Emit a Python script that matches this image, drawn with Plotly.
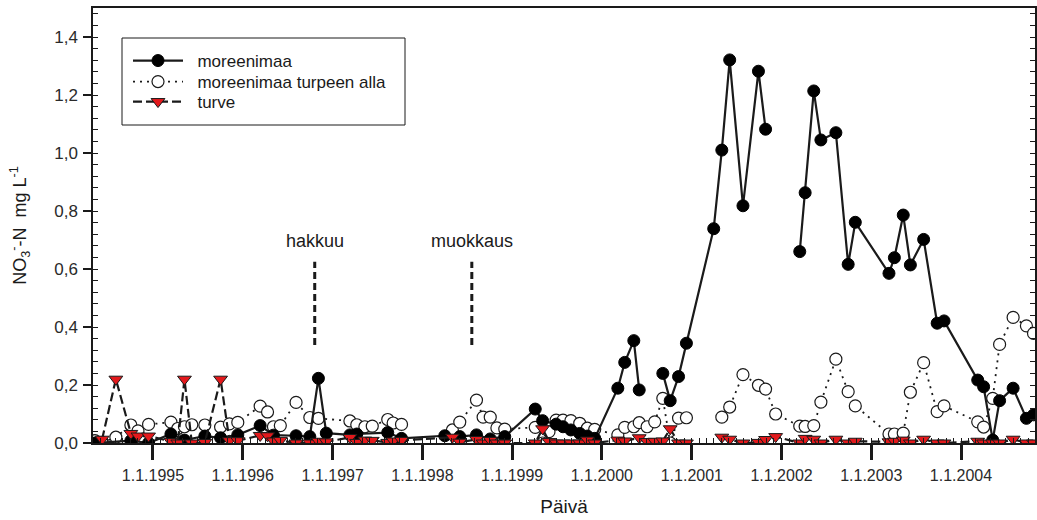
import plotly.graph_objects as go

# ---------------- data ----------------
moreen_dates = [
    "1994-05-10", "1994-10-03", "1994-12-14", "1995-03-15", "1995-05-09", "1995-07-31",
    "1995-10-03", "1995-12-12", "1996-03-12", "1996-05-05", "1996-08-05", "1996-09-30",
    "1996-11-04", "1996-12-06", "1997-03-12", "1997-04-09", "1997-08-13", "1997-10-08",
    "1998-04-02", "1998-06-02", "1998-08-09", "1998-10-04", "1998-12-02", "1999-04-05",
    "1999-05-05", "1999-06-29", "1999-07-27", "1999-08-28", "1999-10-03", "1999-11-03",
    "1999-12-03", "2000-03-06", "2000-04-03", "2000-05-10", "2000-06-01", "2000-07-20",
    "2000-09-05", "2000-10-05", "2000-11-08", "2000-12-10", "2001-03-31", "2001-05-03",
    "2001-06-04", "2001-07-28", "2001-09-29", "2001-10-28", "2002-01-01", "2002-03-16",
    "2002-04-07", "2002-05-12", "2002-06-10", "2002-08-10", "2002-09-29", "2002-10-28",
    "2003-03-14", "2003-04-05", "2003-05-11", "2003-06-09", "2003-08-02", "2003-09-26",
    "2003-10-24", "2004-03-09", "2004-04-02", "2004-05-09", "2004-06-06", "2004-07-31",
    "2004-09-23", "2004-10-22",
]
moreen_vals = [
    0.000, 0.008, 0.000, 0.031, 0.010, 0.024,
    0.018, 0.028, 0.060, 0.027, 0.025, 0.022,
    0.223, 0.034, 0.028, 0.031, 0.036, 0.016,
    0.025, 0.022, 0.028, 0.014, 0.022, 0.117,
    0.077, 0.065, 0.056, 0.045, 0.033, 0.024,
    0.016, 0.189, 0.278, 0.353, 0.183, None,
    0.240, 0.146, 0.229, 0.344, 0.739, 1.010,
    1.321, 0.818, 1.282, 1.082, None, 0.660,
    0.863, 1.214, 1.045, 1.070, 0.616, 0.761,
    0.585, 0.639, 0.786, 0.614, 0.702, 0.413,
    0.421, 0.217, 0.194, 0.010, 0.146, 0.189,
    0.085, 0.097,
]

alla_dates = [
    "1994-05-10", "1994-06-08", "1994-08-03", "1994-10-03", "1994-11-01", "1994-12-14",
    "1995-03-15", "1995-04-12", "1995-05-09", "1995-06-08", "1995-07-31", "1995-10-03",
    "1995-11-08", "1995-12-12", "1996-03-12", "1996-04-11", "1996-05-05", "1996-06-02",
    "1996-08-05", "1996-09-30", "1996-11-04", "1997-03-12", "1997-04-09", "1997-05-12",
    "1997-06-11", "1997-08-13", "1997-09-04", "1997-10-08", "1998-01-01", "1998-05-03",
    "1998-06-02", "1998-08-09", "1998-09-05", "1998-10-04", "1998-10-31", "1998-12-02",
    "1999-04-05", "1999-05-05", "1999-05-31", "1999-06-29", "1999-07-27", "1999-08-28",
    "1999-10-03", "1999-11-03", "1999-12-03", "2000-03-06", "2000-04-03", "2000-05-10",
    "2000-06-01", "2000-07-03", "2000-08-03", "2000-09-05", "2000-10-05", "2000-11-08",
    "2000-12-10", "2001-03-01", "2001-05-03", "2001-06-04", "2001-07-28", "2001-09-29",
    "2001-10-28", "2001-12-08", "2002-03-16", "2002-04-07", "2002-05-12", "2002-06-10",
    "2002-08-10", "2002-09-29", "2002-10-28", "2003-03-14", "2003-04-05", "2003-05-11",
    "2003-06-09", "2003-08-02", "2003-09-26", "2003-10-24", "2004-03-09", "2004-04-02",
    "2004-05-09", "2004-06-06", "2004-07-31", "2004-09-23", "2004-10-22",
]
alla_vals = [
    0.008, 0.001, 0.020, 0.062, 0.042, 0.064,
    0.072, 0.050, 0.056, 0.063, 0.062, 0.055,
    0.066, 0.071, 0.127, 0.107, 0.056, 0.060,
    0.140, 0.088, 0.085, 0.076, 0.063, 0.056,
    0.058, 0.081, 0.069, 0.064, None, 0.045,
    0.072, 0.148, 0.089, 0.089, 0.052, 0.048,
    0.054, 0.000, 0.039, 0.079, 0.079, 0.077,
    0.068, 0.051, 0.047, 0.028, 0.054, 0.056,
    0.070, 0.056, 0.073, 0.154, 0.000, 0.086,
    0.087, None, 0.089, 0.124, 0.236, 0.199,
    0.186, 0.100, 0.058, 0.057, 0.060, 0.141,
    0.289, 0.177, 0.128, 0.031, 0.031, 0.034,
    0.175, 0.277, 0.108, 0.128, 0.073, 0.055,
    0.154, 0.340, 0.433, 0.404, 0.378,
]

turve_dates = [
    "1994-06-08", "1994-08-03", "1994-10-03", "1994-11-01", "1994-12-14", "1995-03-15",
    "1995-04-12", "1995-05-09", "1995-06-08", "1995-07-31", "1995-10-03", "1995-11-08",
    "1995-12-12", "1996-03-12", "1996-04-11", "1996-05-05", "1996-06-02", "1996-08-05",
    "1996-09-30", "1996-11-04", "1996-12-06", "1997-03-12", "1997-04-09", "1997-05-12",
    "1997-06-11", "1997-08-13", "1997-09-04", "1997-10-08", "1998-05-03", "1998-06-02",
    "1998-08-09", "1998-09-05", "1998-10-04", "1998-10-31", "1998-12-02", "1999-04-05",
    "1999-05-05", "1999-05-31", "1999-06-29", "1999-07-27", "1999-08-28", "1999-10-03",
    "1999-11-03", "1999-12-03", "2000-03-06", "2000-04-03", "2000-06-01", "2000-07-03",
    "2000-08-03", "2000-09-05", "2000-10-05", "2000-11-08", "2000-12-10", "2001-03-01",
    "2001-05-03", "2001-06-04", "2001-07-28", "2001-09-29", "2001-10-28", "2001-12-08",
    "2002-03-16", "2002-04-07", "2002-05-12", "2002-06-10", "2002-08-10", "2002-09-29",
    "2002-10-28", "2003-03-14", "2003-04-05", "2003-05-11", "2003-06-09", "2003-08-02",
    "2003-09-26", "2003-10-24", "2004-03-09", "2004-04-02", "2004-05-09", "2004-06-06",
    "2004-07-31", "2004-09-23", "2004-10-22",
]
turve_vals = [
    0.013, 0.220, 0.033, 0.024, 0.024, 0.005,
    0.000, 0.220, 0.000, 0.002, 0.220, 0.008,
    0.008, 0.026, 0.025, 0.007, 0.009, 0.000,
    0.000, 0.006, 0.004, 0.019, 0.002, 0.010,
    0.009, 0.002, 0.007, 0.009, 0.020, 0.003,
    0.012, 0.000, 0.009, 0.000, 0.000, 0.000,
    0.049, 0.005, 0.000, 0.000, 0.000, 0.000,
    0.010, 0.000, 0.010, 0.007, 0.018, 0.005,
    0.006, 0.007, 0.049, 0.000, 0.000, None,
    0.020, 0.013, 0.000, 0.002, 0.012, 0.022,
    0.000, 0.016, 0.013, 0.000, 0.013, 0.000,
    0.006, 0.004, 0.006, 0.010, 0.000, 0.013,
    0.000, 0.000, 0.006, 0.000, 0.000, 0.000,
    0.013, 0.000, 0.000,
]

event_labels = ["hakkuu", "muokkaus"]
event_dates = ["1996-10-20", "1998-07-21"]
event_line_span = [0.338, 0.625]
event_label_y = 0.695

x_tick_dates = ["1995-01-01", "1996-01-01", "1997-01-01", "1998-01-01", "1999-01-01",
                "2000-01-01", "2001-01-01", "2002-01-01", "2003-01-01", "2004-01-01"]
x_range = ["1994-05-02", "2004-10-28"]
y_range = [0, 1.5]

# ---------------- figure ----------------
FONT = "Arial, 'Liberation Sans', sans-serif"
INK = "#1a1a1a"
RED = "#e3191c"
NB = "\u00a0\u00a0"

L, T, R, B = 93, 8, 2, 77
PW, PH = 1037 - L - R, 520 - T - B


def px_to_paper(px, py):
    return (px - L) / PW, 1 - (py - T) / PH


fig = go.Figure()

fig.add_trace(go.Scatter(
    x=alla_dates, y=alla_vals, mode="lines+markers", name=NB + "moreenimaa turpeen alla",
    line=dict(color=INK, width=1.8, dash="2px,5px"),
    marker=dict(symbol="circle", size=12, color="white", line=dict(color=INK, width=1.2)),
    legend="legend2", connectgaps=False,
))
fig.add_trace(go.Scatter(
    x=moreen_dates, y=moreen_vals, mode="lines+markers", name=NB + "moreenimaa",
    line=dict(color=INK, width=2.2),
    marker=dict(symbol="circle", size=12, color="black", line=dict(color="black", width=1)),
    legend="legend", connectgaps=False,
))
fig.add_trace(go.Scatter(
    x=turve_dates, y=turve_vals, mode="lines+markers", name=NB + "turve",
    line=dict(color=INK, width=2.2, dash="9px,4px"),
    marker=dict(symbol="triangle-down", size=12, color=RED, line=dict(color=INK, width=1)),
    legend="legend3", connectgaps=False,
))

for lab, d in zip(event_labels, event_dates):
    fig.add_shape(type="line", xref="x", yref="y", x0=d, x1=d,
                  y0=event_line_span[0], y1=event_line_span[1],
                  line=dict(color=INK, width=3, dash="7px,4px"))
    fig.add_annotation(x=d, y=event_label_y, xref="x", yref="y", text=lab,
                       showarrow=False, font=dict(family=FONT, size=18, color=INK))

# legend frame
bx0, by0 = px_to_paper(122, 125)
bx1, by1 = px_to_paper(405, 38)
fig.add_shape(type="rect", xref="paper", yref="paper", x0=bx0, y0=by0, x1=bx1, y1=by1,
              line=dict(color=INK, width=1), fillcolor="white", layer="below")


def legend_at(py):
    lx, ly = px_to_paper(128, py)
    return dict(x=lx, y=ly, xanchor="left", yanchor="middle", bgcolor="rgba(0,0,0,0)",
                borderwidth=0, font=dict(family=FONT, size=17, color=INK), itemwidth=50)


fig.update_layout(
    width=1037, height=520,
    margin=dict(l=L, r=R, t=T, b=B, autoexpand=False),
    paper_bgcolor="white", plot_bgcolor="white",
    font=dict(family=FONT, size=16, color=INK),
    separators=", ",
    showlegend=True,
    legend=legend_at(61),
    legend2=legend_at(82),
    legend3=legend_at(102),
    xaxis=dict(
        type="date", range=x_range, tickmode="array", tickvals=x_tick_dates,
        tickformat="%-d.%-m.%Y", ticks="outside", ticklen=15, tickwidth=2.5, tickcolor=INK,
        showline=True, linecolor=INK, linewidth=1.5, mirror=True, showgrid=False, zeroline=False,
        automargin=False, ticklabelstandoff=2,
        tickfont=dict(family=FONT, size=16, color="#2a2a2a"),
        minor=dict(ticks="inside", dtick="M1", tick0="1995-01-01", ticklen=5,
                   tickwidth=1, tickcolor=INK, showgrid=False),
        title=dict(text="Päivä", font=dict(family=FONT, size=19, color=INK), standoff=17),
    ),
    yaxis=dict(
        range=y_range, tickmode="linear", tick0=0, dtick=0.2, tickformat=".1f",
        ticks="outside", ticklen=8, tickwidth=2, tickcolor=INK,
        showline=True, linecolor=INK, linewidth=1.5, mirror="ticks", showgrid=False, zeroline=False,
        automargin=False, ticklabelstandoff=2,
        tickfont=dict(family=FONT, size=17, color="#2a2a2a"),
        minor=dict(ticks="inside", dtick=0.04, tick0=0, ticklen=5, tickwidth=1,
                   tickcolor=INK, showgrid=False),
        title=dict(text="NO<sub>3</sub><sup>-</sup>-N  mg L<sup>-1</sup>",
                   font=dict(family=FONT, size=18, color=INK), standoff=23),
    ),
)

fig.write_html(
    "out.html",
    config={"displayModeBar": False},
    post_script="document.body.style.margin='0px';document.body.style.padding='0px';",
)
